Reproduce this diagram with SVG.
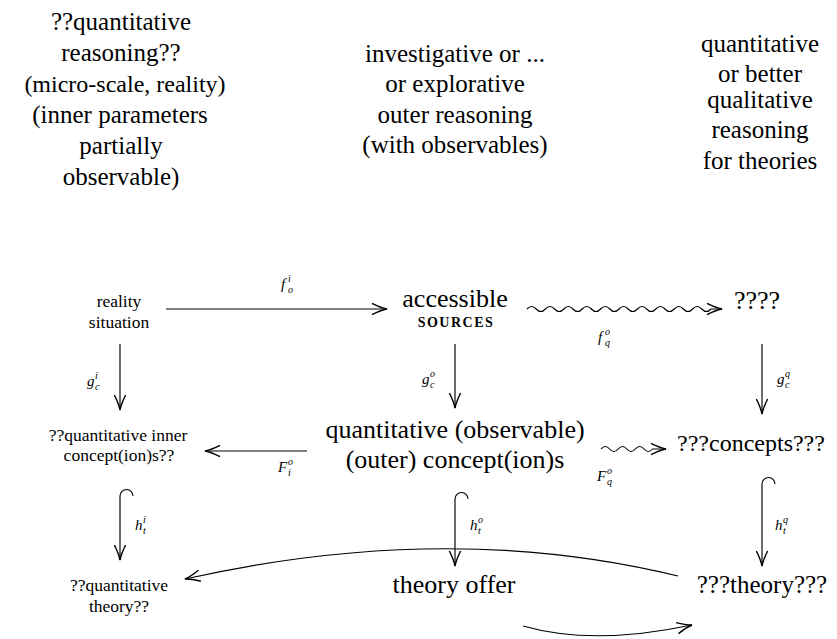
<svg xmlns="http://www.w3.org/2000/svg" width="837" height="639" viewBox="0 0 837 639">
<style>
text{font-family:"Liberation Serif","Times New Roman",serif;fill:#000}
.top{font-size:25px;text-anchor:middle}
.big{font-size:26px;text-anchor:middle}
.sm{font-size:17.5px;text-anchor:middle}
.sc{font-size:14px;font-weight:bold;letter-spacing:1.5px;text-anchor:middle}
.m{font-size:15px;font-style:italic}
.ms{font-size:10px;font-style:italic}
.c{fill:none;stroke:#000;stroke-width:1.15}
</style>
<defs>
<marker id="ah" markerUnits="userSpaceOnUse" markerWidth="20" markerHeight="20" viewBox="-14 -8 16 16" refX="0" refY="0" orient="auto" overflow="visible">
<path d="M-12,-4.5 Q-5,-1 0,0 Q-5,1 -12,4.5" fill="none" stroke="#000" stroke-width="1.15"/>
</marker>
</defs>
<g id="header-left">
<text class="top" x="121" y="30">??quantitative</text>
<text class="top" x="121" y="61">reasoning??</text>
<text class="top" x="125" y="92" style="font-size:24px">(micro-scale, reality)</text>
<text class="top" x="120" y="123">(inner parameters</text>
<text class="top" x="121" y="154">partially</text>
<text class="top" x="121" y="185">observable)</text>
</g>
<g id="header-middle">
<text class="top" x="455" y="62">investigative or ...</text>
<text class="top" x="455" y="92">or explorative</text>
<text class="top" x="455" y="123">outer reasoning</text>
<text class="top" x="455" y="153">(with observables)</text>
</g>
<g id="header-right">
<text class="top" x="760" y="52">quantitative</text>
<text class="top" x="760" y="82">or better</text>
<text class="top" x="760" y="108">qualitative</text>
<text class="top" x="760" y="138">reasoning</text>
<text class="top" x="760" y="169">for theories</text>
</g>
<g id="node-reality">
<text class="sm" x="119" y="307">reality</text>
<text class="sm" x="119" y="328">situation</text>
</g>
<g id="node-sources">
<text class="big" x="455" y="307">accessible</text>
<text class="sc" x="456" y="327">SOURCES</text>
</g>
<g id="node-q1">
<text class="big" x="757" y="309">????</text>
</g>
<g id="node-inner-concepts">
<text class="sm" x="118" y="441">??quantitative inner</text>
<text class="sm" x="119" y="461">concept(ion)s??</text>
</g>
<g id="node-outer-concepts">
<text class="big" x="455" y="438">quantitative (observable)</text>
<text class="big" x="455" y="468">(outer) concept(ion)s</text>
</g>
<g id="node-concepts">
<text class="big" x="751" y="451" style="font-size:24px">???concepts???</text>
</g>
<g id="node-inner-theory">
<text class="sm" x="119" y="591">??quantitative</text>
<text class="sm" x="119" y="612">theory??</text>
</g>
<g id="node-theory-offer">
<text class="big" x="454" y="593">theory offer</text>
</g>
<g id="node-theory">
<text class="big" x="762" y="593" style="font-size:25px">???theory???</text>
</g>
<g id="connectors">
<path class="c" d="M166,309 L387,309" marker-end="url(#ah)"/>
<path class="c" d="M527,309 q4.6,-5 9.2,0 t9.2,0 t9.2,0 t9.2,0 t9.2,0 t9.2,0 t9.2,0 t9.2,0 t9.2,0 t9.2,0 t9.2,0 t9.2,0 t9.2,0 t9.2,0 t9.2,0 t9.2,0 t9.2,0 t9.2,0 t9.2,0 t9.2,0 L722,309" marker-end="url(#ah)"/>
<path class="c" d="M120,344 L120,410" marker-end="url(#ah)"/>
<path class="c" d="M455,344 L455,408" marker-end="url(#ah)"/>
<path class="c" d="M762,344 L762,414" marker-end="url(#ah)"/>
<path class="c" d="M307,451 L205,451" marker-end="url(#ah)"/>
<path class="c" d="M601,449 q4.3,-5 8.6,0 t8.6,0 t8.6,0 t8.6,0 t8.6,0 t8.6,0 L666,449" marker-end="url(#ah)"/>
<path class="c" d="M133,496 A6.5,6.5 0 0 0 120,496 L120,560" marker-end="url(#ah)"/>
<path class="c" d="M468,499 A6.5,6.5 0 0 0 455,499 L455,566" marker-end="url(#ah)"/>
<path class="c" d="M775,484 A6.5,6.5 0 0 0 762,484 L762,566" marker-end="url(#ah)"/>
<path class="c" d="M678,576 Q448,520 185,579" marker-end="url(#ah)"/>
<path class="c" d="M523,626 Q593,646 692,625" marker-end="url(#ah)"/>
</g>
<g id="labels">
<text class="m" x="281" y="289">f<tspan class="ms" x="288" y="282">i</tspan><tspan class="ms" x="288" y="293">o</tspan></text>
<text class="m" x="87" y="386">g<tspan class="ms" x="95" y="379">i</tspan><tspan class="ms" x="95" y="390">c</tspan></text>
<text class="m" x="422" y="384">g<tspan class="ms" x="430" y="377">o</tspan><tspan class="ms" x="430" y="388">c</tspan></text>
<text class="m" x="777" y="384">g<tspan class="ms" x="785" y="377">q</tspan><tspan class="ms" x="785" y="388">c</tspan></text>
<text class="m" x="598" y="342">f<tspan class="ms" x="605" y="335">o</tspan><tspan class="ms" x="605" y="346">q</tspan></text>
<text class="m" x="278" y="472">F<tspan class="ms" x="288" y="465">o</tspan><tspan class="ms" x="288" y="476">i</tspan></text>
<text class="m" x="597" y="481">F<tspan class="ms" x="607" y="474">o</tspan><tspan class="ms" x="607" y="485">q</tspan></text>
<text class="m" x="135" y="530">h<tspan class="ms" x="143" y="523">i</tspan><tspan class="ms" x="143" y="534">t</tspan></text>
<text class="m" x="470" y="530">h<tspan class="ms" x="478" y="523">o</tspan><tspan class="ms" x="478" y="534">t</tspan></text>
<text class="m" x="775" y="530">h<tspan class="ms" x="783" y="523">q</tspan><tspan class="ms" x="783" y="534">t</tspan></text>
</g>
</svg>
